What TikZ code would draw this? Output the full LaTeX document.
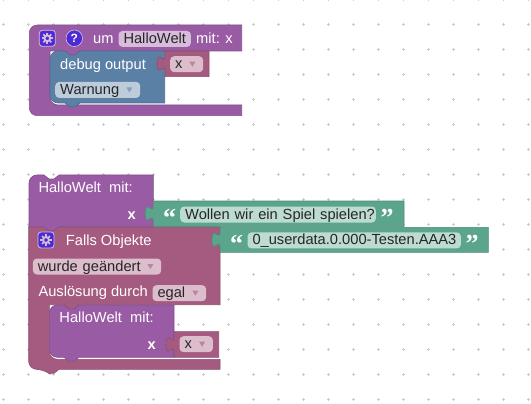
\documentclass[tikz,border=0pt]{standalone}
\usepackage{fontspec}
\setmainfont{Liberation Sans}
\newfontfamily\quotefamily{Liberation Serif}
\newcommand{\blockfont}{\fontsize{14.67}{16}\selectfont}
\newcommand{\quotefont}{\quotefamily\bfseries\fontsize{26}{26}\selectfont}
\newcommand{\notchL}{-- ++(-5,4) -- ++(-5,0) -- ++(-5,-4)}
\newcommand{\notchR}{-- ++(5,4) -- ++(5,0) -- ++(5,-4)}
\newcommand{\tabUp}{.. controls +(0,-10) and +(0,15.5) .. ++(-8,-7.5) .. controls +(0,-15.5) and +(0,10) .. ++(8,-7.5)}
\definecolor{fnpurple}{HTML}{9A5BA5}
\definecolor{fnlight}{HTML}{D7BDDB}
\definecolor{logicblue}{HTML}{5B80A5}
\definecolor{logiclight}{HTML}{BDCCDB}
\definecolor{varpink}{HTML}{A55B80}
\definecolor{varlight}{HTML}{DBBDCC}
\definecolor{textgreen}{HTML}{5BA58C}
\definecolor{textlight}{HTML}{BDDBD1}
\definecolor{iconviolet}{HTML}{4A2BD6}
\definecolor{gridgray}{HTML}{CCCCCC}

\begin{document}
\begin{tikzpicture}[
    x=1pt, y=-1pt,
    fn block/.style={fill=fnpurple, draw=fnpurple!85!black, line width=0.6pt},
    logic block/.style={fill=logicblue, draw=logicblue!85!black, line width=0.6pt},
    var block/.style={fill=varpink, draw=varpink!85!black, line width=0.6pt},
    text block/.style={fill=textgreen, draw=textgreen!85!black, line width=0.6pt},
    label/.style={anchor=base west, inner sep=0pt, text=white, font=\blockfont},
    bold label/.style={label, font=\blockfont\bfseries},
    field/.style={anchor=north west, rounded corners=4pt, inner xsep=5pt, inner ysep=0.5pt,
        text height=12pt, text depth=3pt, align=left, text=black!85, font=\blockfont},
    quote mark/.style={anchor=base west, inner sep=0pt, text=white, font=\quotefont},
    gear icon/.pic={
        \draw[fill=iconviolet, draw=fnlight, line width=0.8pt, rounded corners=3pt] (-8,-8) rectangle (8,8);
        \foreach \a in {0,45,...,315}
            \draw[fnlight, line width=1.7pt] (\a:3) -- (\a:5.6);
        \draw[fnlight, fill=iconviolet, line width=1.9pt] (0,0) circle[radius=2.9];
    }
]
\useasboundingbox (0,0) rectangle (531,404);

% grid of small crosses
\foreach \i in {0,...,21}
    \foreach \j in {0,...,16} {
        \draw[gridgray, line width=0.8pt] (1.6+25*\i,-0.7+25*\j) -- (5+25*\i,-0.7+25*\j);
        \draw[gridgray, line width=0.8pt] (3.3+25*\i,-2.4+25*\j) -- (3.3+25*\i,1+25*\j);
    }

% Funktion um HalloWelt
\draw[fn block] (241.7,25) [rounded corners=8pt] -- (29.3,25) -- (29.3,115.7) [sharp corners] -- (241.7,115.7)
    -- (241.7,105) [rounded corners=8pt] -- (50,105) -- (50,80) [sharp corners] -- (50,51) -- (65,51) \notchR -- (241.7,51) -- cycle;
\draw[logic block] (164.7,51) -- (80,51) \notchL [rounded corners=8pt] -- (50,51) -- (50,103) [sharp corners] -- (65,103) \notchR -- (164.7,103) -- cycle;
\draw[var block] (165,51) -- (209,51) -- (209,76.7) -- (165,76.7) -- (165,71) \tabUp -- cycle;

\pic at (47.3,38.3) {gear icon};
\node[circle, fill=iconviolet, draw=fnlight, line width=0.6pt, minimum size=16.5pt, inner sep=0pt, text=white, font=\fontsize{12}{12}\selectfont\bfseries] (help) at (74.3,38.3) {?};
\node[label] (um) at (93,43.3) {um};
\node[field, fill=fnlight, text width=62.4pt] (fname) at (118.3,30.7) {HalloWelt};
\node[label] (mit) at (196,43.3) {mit: x};
\node[label] (debug) at (60,69.3) {debug output};
\node[field, fill=varlight, text width=23pt] (xa) at (170,56) {x};
\node[field, fill=logiclight, text width=75pt] (warn) at (55,81.7) {Warnung};

% Objekt-Trigger, darin der Aufruf
\draw[var block] (220,226.7) -- (28.7,226.7) -- (28.7,300) [rounded corners=8pt] -- (28.7,369.3) -- (44,369.3) [sharp corners] \notchR
    -- (220,369.3) -- (220,359.3) [rounded corners=8pt] -- (49.3,359.3) -- (49.3,330) [sharp corners] -- (49.3,304.7) -- (64,304.7) \notchR -- (220,304.7) -- cycle;

% Aufruf oben
\draw[fn block] (153.3,175) -- (59,175) \notchL [rounded corners=8pt] -- (29,175) -- (29,200) [sharp corners] -- (29,226.7) -- (44,226.7) \notchR -- (153.3,226.7) -- cycle;
\node[label] (callA) at (38.3,192.7) {HalloWelt\ \ mit:};
\node[bold label] (argA) at (127.3,219) {x};

\draw[text block] (153.3,201) -- (404,201) -- (404,226.7) -- (153.3,226.7) -- (153.3,221) \tabUp -- cycle;
\node[quote mark] (qa) at (163,226) {“};
\node[field, fill=textlight, text width=185.7pt] (spiel) at (180,206.3) {\mbox{Wollen wir ein Spiel spielen?}};
\node[quote mark] (qb) at (380.5,226) {”};

\draw[text block] (220,227.3) -- (488.3,227.3) -- (488.3,252.3) -- (220,252.3) -- (220,247.3) \tabUp -- cycle;
\node[quote mark] (qc) at (230,252) {“};
\node[field, fill=textlight, text width=203.4pt] (oid) at (247.3,232.2) {\mbox{0\_userdata.0.000-Testen.AAA3}};
\node[quote mark] (qd) at (465.5,252) {”};

\pic at (46,240) {gear icon};
\node[label] (falls) at (65.7,245) {Falls Objekte};
\node[field, fill=varlight, text width=118.3pt] (change) at (32.7,258.3) {wurde geändert};
\node[label] (ausl) at (38.3,296.7) {Auslösung durch};
\node[field, fill=varlight, text width=43.7pt] (egal) at (152.3,285) {egal};

% Aufruf unten
\draw[fn block] (174,305) -- (79,305) \notchL [rounded corners=8pt] -- (49.3,305) -- (49.3,357.3) [sharp corners] -- (64,357.3) \notchR -- (174,357.3) -- cycle;
\draw[var block] (174,331.7) -- (218.7,331.7) -- (218.7,357.3) -- (174,357.3) -- (174,352) \tabUp -- cycle;
\node[label] (callB) at (59.3,322.7) {HalloWelt\ \ mit:};
\node[bold label] (argB) at (147.5,349.3) {x};
\node[field, fill=varlight, text width=23.4pt] (xb) at (179.3,336) {x};

% Pfeile der Auswahlfelder
\foreach \f/\c in {xa/varpink, warn/logicblue, change/varpink, egal/varpink, xb/varpink}
    \fill[\c!75!white] ([xshift=-14pt,yshift=2.5pt]\f.east) -- ++(6,0) -- ++(-3,5) -- cycle;
\end{tikzpicture}
\end{document}
